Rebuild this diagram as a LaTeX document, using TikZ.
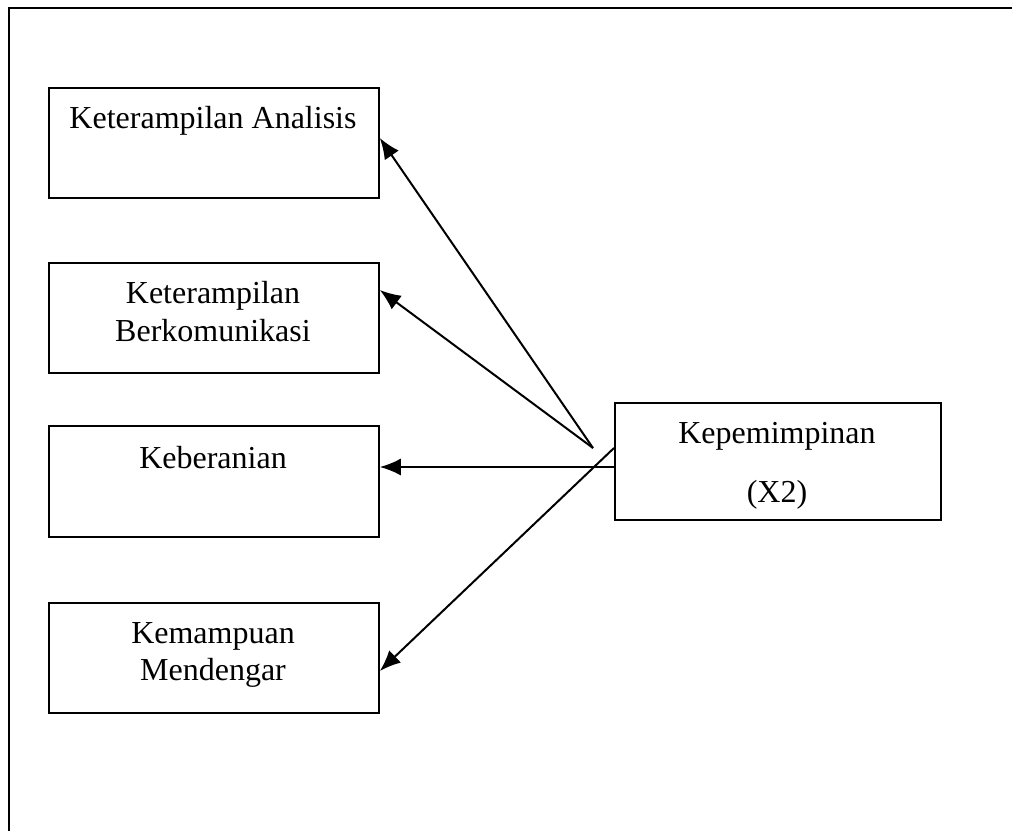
\documentclass[tikz,border=0pt]{standalone}
\usepackage{fontspec}
\setmainfont{Liberation Serif}
\usetikzlibrary{arrows.meta}
\begin{document}
\begin{tikzpicture}[x=0.5pt,y=-0.5pt,
  box/.style={draw, line width=0.9pt, rectangle, inner sep=0pt, anchor=north west},
  lbl/.style={anchor=base, inner sep=0pt, font=\fontsize{16}{19}\selectfont},
  link/.style={line width=1pt, -{Latex[length=10.5pt,width=8.5pt]}}]
  \useasboundingbox (0,0) rectangle (1012,830);
  \clip (0,0) rectangle (1012,830);
  % outer frame, running off the right and bottom edges
  \draw[line width=1.2pt] (9,8) rectangle (1040,860);

  % indicator boxes
  \node[box, minimum width=165pt, minimum height=55pt] (ana) at (48,87) {};
  \node[box, minimum width=165pt, minimum height=55pt] (kom) at (48,262) {};
  \node[box, minimum width=165pt, minimum height=55.5pt] (ber) at (48,425) {};
  \node[box, minimum width=165pt, minimum height=55pt] (den) at (48,602) {};
  \node[box, minimum width=163pt, minimum height=58.5pt] (x2) at (614,402) {};

  % box texts
  \node[lbl] (tana) at (213,128) {Keterampilan Analisis};
  \node[lbl] (tkom1) at (213,303) {Keterampilan};
  \node[lbl] (tkom2) at (213,341) {Berkomunikasi};
  \node[lbl] (tber) at (213,468) {Keberanian};
  \node[lbl] (tden1) at (213,643) {Kemampuan};
  \node[lbl] (tden2) at (213,680) {Mendengar};
  \node[lbl] (tx1) at (777,443) {Kepemimpinan};
  \node[lbl] (tx2) at (777,502) {(X2)};

  % connectors
  \coordinate (hub) at (593,448);
  \draw[link] (hub) -- (ana.east |- 0,138);
  \draw[link] (hub) -- (kom.east |- 0,290);
  \draw[link] (x2.west |- 0,467) -- (ber.east |- 0,467);
  \draw[link] (x2.west |- 0,448) -- (den.east |- 0,671);
\end{tikzpicture}
\end{document}
